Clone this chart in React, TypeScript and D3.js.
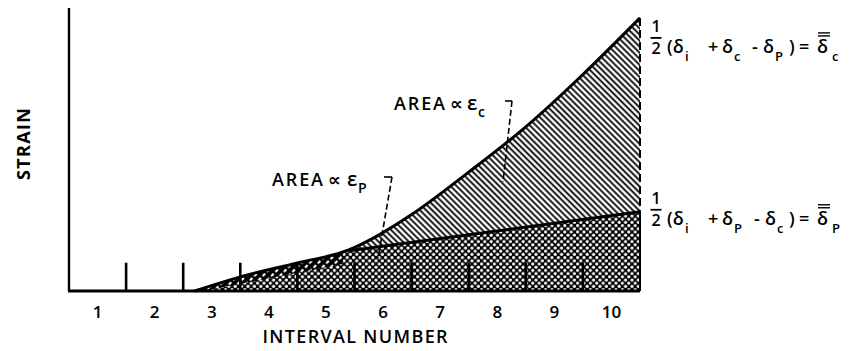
import React from "react";
import * as d3 from "d3";

// Interval numbers along the abscissa and the boundaries between intervals
const intervals = ["1", "2", "3", "4", "5", "6", "7", "8", "9", "10"];
const boundaries = [1, 2, 3, 4, 5, 6, 7, 8, 9];

// Total strain curve (interval position, strain)
const totalX = [2.2, 3, 4, 4.9, 5.4, 6, 7, 8, 9, 10];
const totalStrain = [0, 0.5, 0.99, 1.45, 1.95, 2.7, 4.2, 5.8, 7.65, 9.65];

// Plastic strain boundary
const plasticX = [4.9, 10];
const plasticStrain = [1.42, 2.8];

// Lower edge of the early hatched band
const bandX = [2.35, 4.8];
const bandStrain = [0, 0.95];

const W = 850;
const H = 351;
const FONT = "'Open Sans', 'DejaVu Sans', sans-serif";

type Piece = { t: string; x: number; sub?: boolean };

// pieces of the two end-point formulas, placed glyph group by glyph group
const formulaC: Piece[] = [
  { t: "(δ", x: 667 },
  { t: "i", x: 685, sub: true },
  { t: "+", x: 708 },
  { t: "δ", x: 722 },
  { t: "c", x: 734, sub: true },
  { t: "-", x: 752 },
  { t: "δ", x: 763 },
  { t: "P", x: 775, sub: true },
  { t: ")", x: 789 },
  { t: "=", x: 799 },
  { t: "δ", x: 817 },
  { t: "c", x: 832, sub: true },
];
const formulaP: Piece[] = [
  { t: "(δ", x: 667 },
  { t: "i", x: 685, sub: true },
  { t: "+", x: 708 },
  { t: "δ", x: 722 },
  { t: "P", x: 734, sub: true },
  { t: "-", x: 754 },
  { t: "δ", x: 765 },
  { t: "c", x: 777, sub: true },
  { t: ")", x: 789 },
  { t: "=", x: 799 },
  { t: "δ", x: 817 },
  { t: "P", x: 832, sub: true },
];

export default function App() {
  const x = d3.scaleLinear().domain([0, 10]).range([69, 640]);
  const y = d3.scaleLinear().domain([0, 10]).range([291, 8]);

  const total = totalX.map((v, i) => [v, totalStrain[i]] as [number, number]);
  const plastic = plasticX.map((v, i) => [v, plasticStrain[i]] as [number, number]);

  const line = d3
    .line<[number, number]>()
    .x((d) => x(d[0]))
    .y((d) => y(d[1]))
    .curve(d3.curveMonotoneX);
  const area = d3
    .area<[number, number]>()
    .x((d) => x(d[0]))
    .y0(y(0))
    .y1((d) => y(d[1]))
    .curve(d3.curveMonotoneX);

  // plastic boundary extended to the start of the curve, then clipped by the total area
  const slope = (plasticStrain[1] - plasticStrain[0]) / (plasticX[1] - plasticX[0]);
  const plasticAt = (v: number) => plasticStrain[0] + slope * (v - plasticX[0]);
  const plasticFull: [number, number][] = [
    [totalX[0], plasticAt(totalX[0])],
    [plasticX[1], plasticStrain[1]],
  ];
  const plasticArea = d3
    .area<[number, number]>()
    .x((d) => x(d[0]))
    .y0(y(0))
    .y1((d) => y(d[1]));

  const bandPoly = [
    [x(bandX[0]), y(bandStrain[0])],
    [x(bandX[1]), y(bandStrain[1])],
    [x(bandX[1]), y(bandStrain[1] + 1.5)],
    [x(bandX[0]), y(bandStrain[0] + 1.5)],
  ]
    .map((p) => p.join(","))
    .join(" ");

  const xEnd = x(10);
  const yTop = y(totalStrain[totalStrain.length - 1]);
  const yPl = y(plasticStrain[1]);

  const formula = (pieces: Piece[], baseY: number) => (
    <g fontFamily={FONT} fontWeight={600}>
      <text x={656} y={baseY - 21} fontSize={16} textAnchor="middle">
        1
      </text>
      <line x1={650.5} x2={661.5} y1={baseY - 15} y2={baseY - 15} stroke="#000" strokeWidth={1.8} />
      <text x={656} y={baseY + 1} fontSize={16} textAnchor="middle">
        2
      </text>
      <text fontSize={18}>
        {pieces.map((p, i) => (
          <tspan key={i} x={p.x} y={p.sub ? baseY + 8 : baseY} fontSize={p.sub ? 13 : 18}>
            {p.t}
          </tspan>
        ))}
      </text>
      <line x1={818} x2={830} y1={baseY - 17} y2={baseY - 17} stroke="#000" strokeWidth={1.4} />
      <line x1={818} x2={830} y1={baseY - 20} y2={baseY - 20} stroke="#000" strokeWidth={1.4} />
    </g>
  );

  return (
    <svg width={W} height={H} style={{ position: "absolute", left: 0, top: 0, background: "#fff" }}>
      <defs>
        <pattern id="hatchC" width={4.3} height={4.3} patternUnits="userSpaceOnUse" patternTransform="rotate(-45)">
          <rect width={4.3} height={4.3} fill="#fff" />
          <line x1={2.15} y1={0} x2={2.15} y2={4.3} stroke="#000" strokeWidth={1.8} />
        </pattern>
        <pattern id="dots" width={6.4} height={6.4} patternUnits="userSpaceOnUse">
          <rect width={6.4} height={6.4} fill="#000" />
          <circle cx={1.6} cy={1.6} r={1.6} fill="#fff" />
          <circle cx={4.8} cy={4.8} r={1.6} fill="#fff" />
        </pattern>
        <pattern id="slash" width={6} height={6} patternUnits="userSpaceOnUse" patternTransform="rotate(45)">
          <rect width={6} height={6} fill="#000" />
          <line x1={3} y1={0} x2={3} y2={3.5} stroke="#fff" strokeWidth={2.2} />
        </pattern>
        <clipPath id="underTotal">
          <path d={area(total) ?? ""} />
        </clipPath>
      </defs>

      {/* total strain area */}
      <path d={area(total) ?? ""} fill="url(#hatchC)" />
      {/* plastic strain area */}
      <g clipPath="url(#underTotal)">
        <path d={plasticArea(plasticFull) ?? ""} fill="url(#dots)" />
        <polygon points={bandPoly} fill="url(#slash)" />
      </g>

      {/* interval boundary ticks */}
      {boundaries.map((b) => (
        <line key={b} x1={x(b)} x2={x(b)} y1={y(0)} y2={y(1.0)} stroke="#000" strokeWidth={2.6} />
      ))}

      {/* curves */}
      <path d={line(total) ?? ""} fill="none" stroke="#000" strokeWidth={3} />
      <path d={line(plastic) ?? ""} fill="none" stroke="#000" strokeWidth={3} />

      {/* end line */}
      <line x1={xEnd} x2={xEnd} y1={yTop} y2={yPl} stroke="#000" strokeWidth={2} strokeDasharray="8 4" />
      <line x1={xEnd} x2={xEnd} y1={yPl} y2={y(0)} stroke="#000" strokeWidth={2} />

      {/* axes */}
      <line x1={x(0)} x2={x(0)} y1={y(10)} y2={y(0)} stroke="#000" strokeWidth={2.4} />
      <line x1={x(0) - 1} x2={xEnd} y1={y(0)} y2={y(0)} stroke="#000" strokeWidth={3} />

      {/* interval labels */}
      {intervals.map((t, i) => (
        <text
          key={t}
          x={x(i + 0.5)}
          y={318}
          fontSize={17}
          textAnchor="middle"
          fontFamily={FONT}
          fontWeight={600}
        >
          {t}
        </text>
      ))}
      <text x={355} y={343} fontSize={18} textAnchor="middle" fontFamily={FONT} fontWeight={600} textLength={185} lengthAdjust="spacing">
        INTERVAL NUMBER
      </text>
      <text
        transform="translate(30,144) rotate(-90)"
        fontSize={18}
        textAnchor="middle"
        fontFamily={FONT}
        fontWeight={700}
        textLength={72}
        lengthAdjust="spacing"
      >
        STRAIN
      </text>

      {/* area annotations */}
      <g fontFamily={FONT} fontWeight={600}>
        <text y={110} fontSize={18}>
          <tspan x={394} textLength={51} lengthAdjust="spacing">AREA</tspan>
          <tspan x={450}>∝</tspan>
          <tspan x={467} fontSize={20}>ε</tspan>
          <tspan x={478} y={117} fontSize={14}>c</tspan>
        </text>
        <text y={186} fontSize={18}>
          <tspan x={272} textLength={51} lengthAdjust="spacing">AREA</tspan>
          <tspan x={328}>∝</tspan>
          <tspan x={347} fontSize={20}>ε</tspan>
          <tspan x={358} y={193} fontSize={14}>P</tspan>
        </text>
      </g>
      <path d="M505,101 H512" stroke="#000" strokeWidth={1.6} />
      <line x1={512} y1={101} x2={503} y2={182} stroke="#000" strokeWidth={1.6} strokeDasharray="6 3" />
      <path d="M384,177 H392" stroke="#000" strokeWidth={1.6} />
      <line x1={392} y1={177} x2={378} y2={258} stroke="#000" strokeWidth={1.6} strokeDasharray="6 3" />

      {/* end-point formulas */}
      {formula(formulaC, yTop + 35)}
      {formula(formulaP, yPl + 13)}
    </svg>
  );
}
